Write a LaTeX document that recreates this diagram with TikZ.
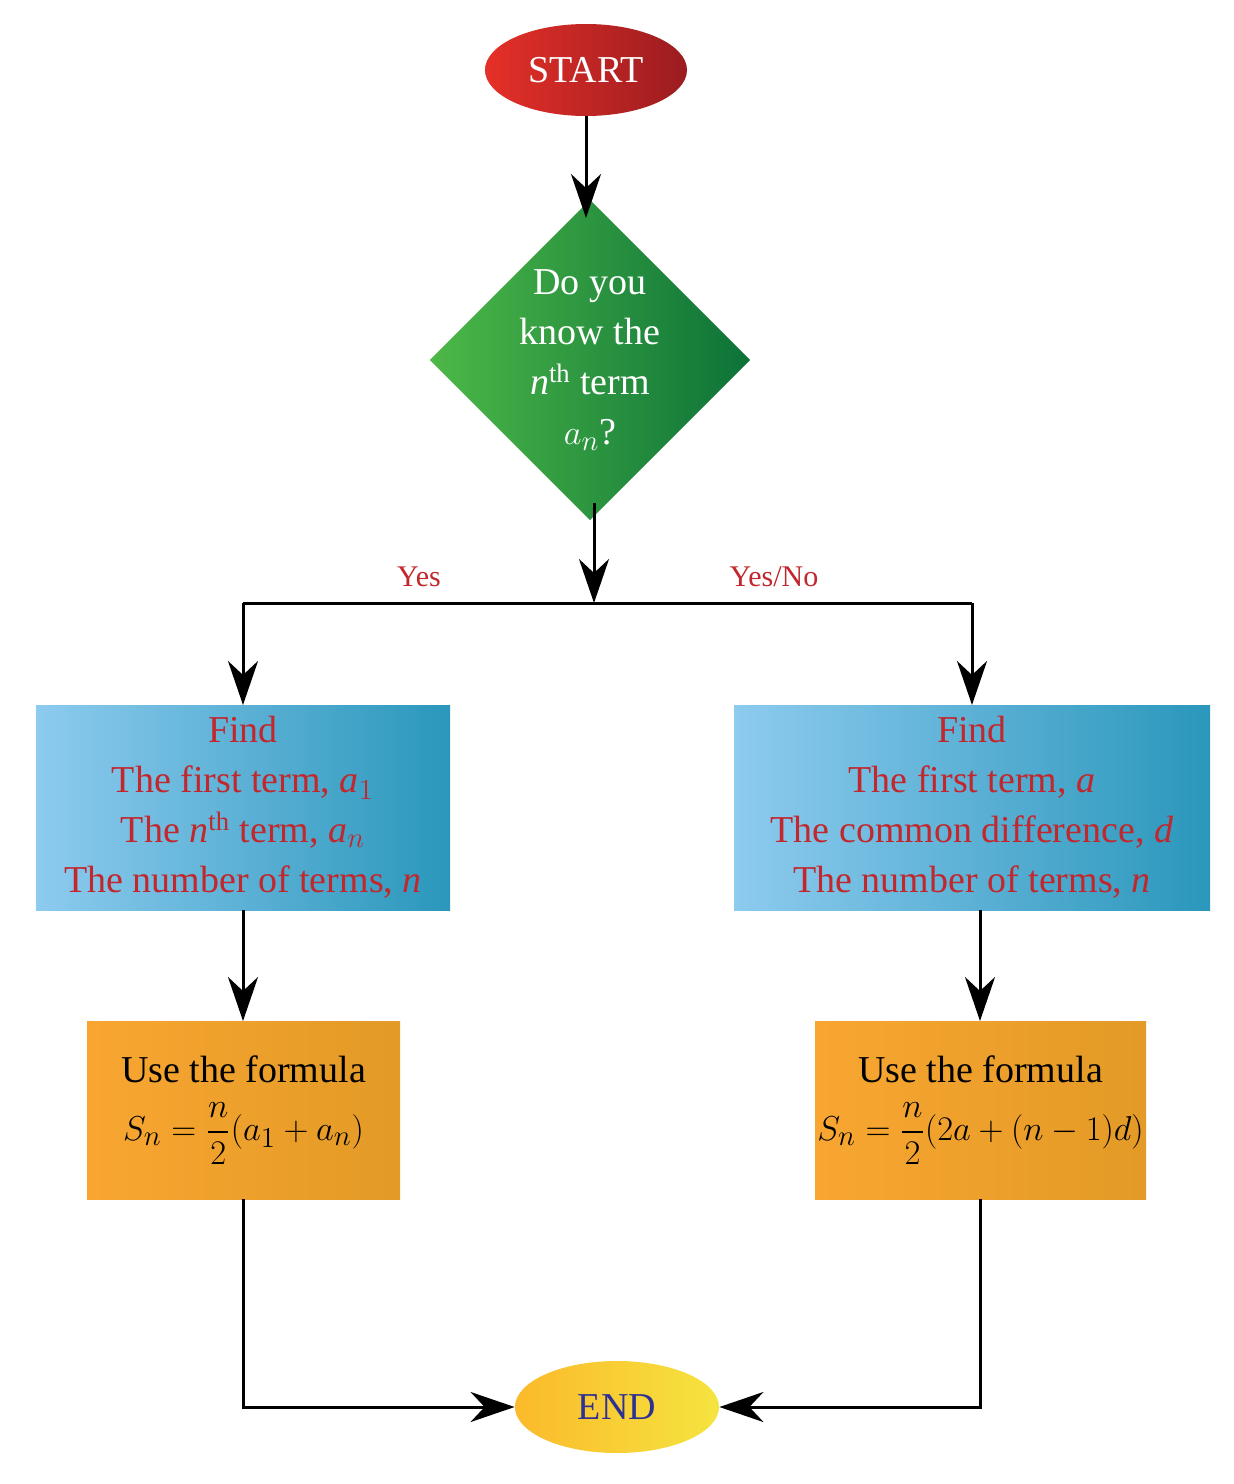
\documentclass[tikz,border=0pt]{standalone}
\usepackage{amsmath}
\usepackage{fontspec}
\setmainfont{Liberation Serif}
\usetikzlibrary{shapes.geometric,arrows.meta}
\definecolor{tred}{HTML}{C1272D}
\definecolor{navy}{HTML}{2E3192}
\definecolor{bl1}{HTML}{8DCBEF}\definecolor{bl2}{HTML}{2A97BB}
\begin{document}
\begin{tikzpicture}[x=0.5pt,y=-0.5pt,
  txt/.style={font=\fontsize{19}{25}\selectfont},
  arr/.style={-{Stealth[length=22pt,width=15pt,inset=7pt]},line width=1.5pt,black},
  ln/.style={line width=1.5pt,black},
  orbox/.style={rectangle,left color={rgb,255:red,248;green,166;blue,49},right color={rgb,255:red,227;green,154;blue,38},inner sep=0pt,align=center,txt}]
\useasboundingbox (0,0) rectangle (1234,1484);
\node[ellipse,minimum width=101pt,minimum height=46pt,left color={rgb,255:red,229;green,48;blue,40},right color={rgb,255:red,155;green,28;blue,32},text=white,txt] (start) at (586,70) {START};
\node[diamond,aspect=1,minimum width=143pt,minimum height=143pt,inner sep=0pt,left color={rgb,255:red,77;green,184;blue,72},right color={rgb,255:red,12;green,114;blue,56},text=white,txt,align=center] (q) at (590,360) {Do you\\know the\\\textit{n}\textsuperscript{th} term\\$a_n$?};
\coordinate (j) at (594,603);
\coordinate (jl) at (243,603);
\coordinate (jr) at (972,603);
\node[rectangle,left color=bl1,right color=bl2,inner sep=0pt,align=center,text=tred,txt,minimum width=207pt,minimum height=102.5pt] (b1) at (243,807.5) {Find\\The first term, \textit{a}$_1$\\The \textit{n}\textsuperscript{th} term, \textit{a}$_n$\\The number of terms, \textit{n}};
\node[rectangle,left color=bl1,right color=bl2,inner sep=0pt,align=center,text=tred,txt,minimum width=238pt,minimum height=102.5pt] (b2) at (972,807.5) {Find\\The first term, \textit{a}\\The common difference, \textit{d}\\The number of terms, \textit{n}};
\node[orbox,minimum width=156.5pt,minimum height=89pt] (o1) at (243.5,1110) {Use the formula\\[4pt]$S_n=\dfrac{n}{2}(a_1+a_n)$};
\node[orbox,minimum width=165.5pt,minimum height=89pt] (o2) at (980.5,1110) {Use the formula\\[4pt]$S_n=\dfrac{n}{2}(2a+(n-1)d)$};
\node[ellipse,minimum width=102pt,minimum height=46pt,left color={rgb,255:red,251;green,186;blue,43},right color={rgb,255:red,245;green,228;blue,63},text=navy,txt] (end) at (617,1407) {END};
\draw[arr] (start) -- (586,218);
\draw[arr] (594,503) -- (j);
\draw[ln] (jl) -- (jr);
\draw[arr] (jl) -- (243,705);
\draw[arr] (jr) -- (972,705);
\draw[arr] (243,910) -- (243,1021);
\draw[arr] (980,910) -- (980,1021);
\draw[arr] (243,1199) |- (end.west);
\draw[arr] (980,1199) |- (end.east);
\node[text=tred,font=\fontsize{15}{18}\selectfont] (yes) at (419,577) {Yes};
\node[text=tred,font=\fontsize{15}{18}\selectfont] (yesno) at (774,577) {Yes/No};
\end{tikzpicture}
\end{document}
